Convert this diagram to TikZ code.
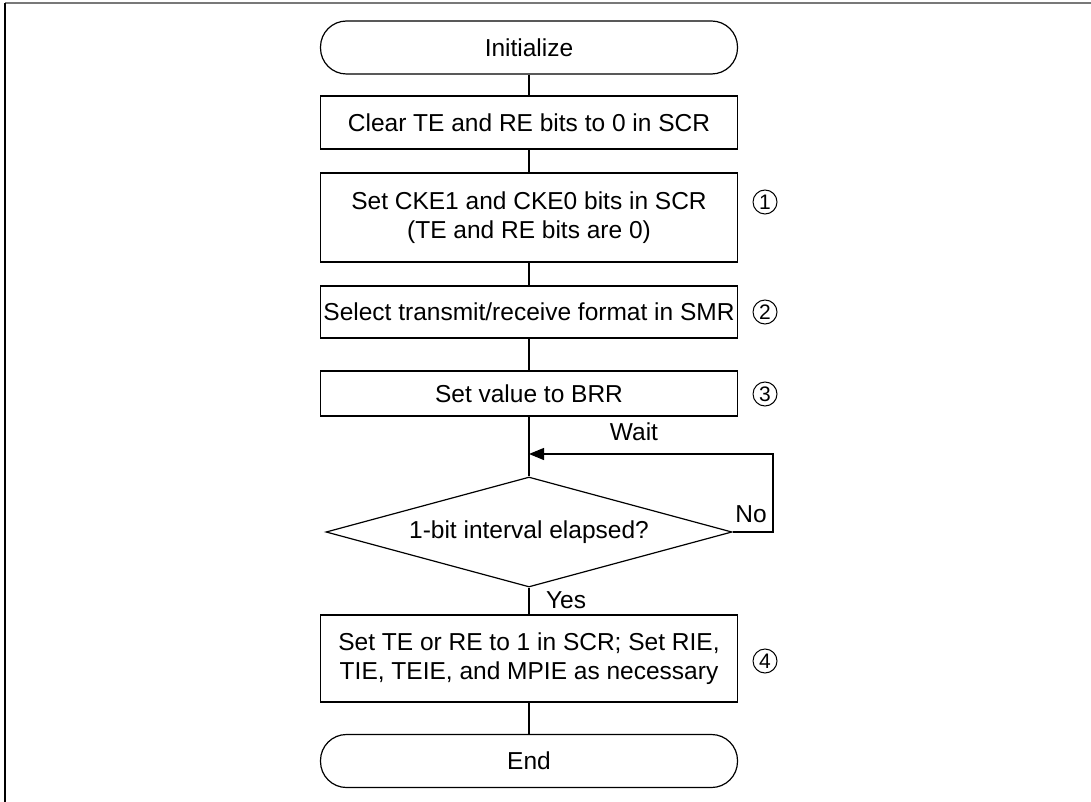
\documentclass[tikz,border=0pt]{standalone}
\usepackage{fontspec}
\setmainfont{Liberation Sans}
\usepackage{tikz}
\usepackage{xcolor}
\usetikzlibrary{positioning, arrows.meta, shapes.geometric, calc}
\definecolor{frameGray}{RGB}{120,120,120}

\begin{document}
\begin{tikzpicture}[x=1pt, y=-1pt, line width=1.2pt,
    every node/.style={font=\fontsize{24.5}{29}\selectfont},
    term/.style={draw, rounded corners=26pt, minimum width=417pt, minimum height=53pt},
    proc/.style={draw, align=center, inner xsep=2pt, minimum width=417pt},
    cond/.style={draw, diamond, aspect=3.69, inner sep=0pt, minimum width=406pt, minimum height=110pt},
    tag/.style={draw, circle, line width=1pt, inner sep=0pt, minimum size=24pt, font=\fontsize{21}{21}\selectfont}]
    \useasboundingbox (0,0) rectangle (1091,802);
    \draw[frameGray, line width=1.6pt] (5,3) -- (1091,3);
    \draw[line width=1.6pt] (5,3) -- (5,802);
    \node[term] (init) at (529,47.5) {Initialize};
    \node[proc, minimum height=53pt] (clear) at (529,122.5) {Clear TE and RE bits to 0 in SCR};
    \node[proc, minimum height=89pt] (cke) at (529,217.5) {Set CKE1 and CKE0 bits in SCR\\(TE and RE bits are 0)};
    \node[proc, minimum height=52pt] (smr) at (529,312) {Select transmit/receive format in SMR};
    \node[proc, minimum height=45pt] (brr) at (529,393.5) {Set value to BRR};
    \node[cond] (elapsed) at (529,532) {1-bit interval elapsed?};
    \node[proc, minimum height=87pt] (enable) at (529,658.5) {Set TE or RE to 1 in SCR; Set RIE,\\TIE, TEIE, and MPIE as necessary};
    \node[term] (done) at (529,761) {End};
    \node[tag] (t1) at (765,202) {1};
    \node[tag] (t2) at (765,312) {2};
    \node[tag] (t3) at (765,394) {3};
    \node[tag] (t4) at (765,661) {4};
    \coordinate (loop) at (773,454);
    \coordinate (join) at (529,454);
    \draw (init) -- (clear);
    \draw (clear) -- (cke);
    \draw (cke) -- (smr);
    \draw (smr) -- (brr);
    \draw (brr) -- (elapsed);
    \draw (elapsed) -- (enable);
    \draw (enable) -- (done);
    \draw[-{Triangle[length=15pt,width=12pt]}] (elapsed.east) -| (loop) -- (join);
    \node (wait) at (634,432) {Wait};
    \node (no) at (751,514) {No};
    \node (yes) at (566,600) {Yes};
\end{tikzpicture}
\end{document}
